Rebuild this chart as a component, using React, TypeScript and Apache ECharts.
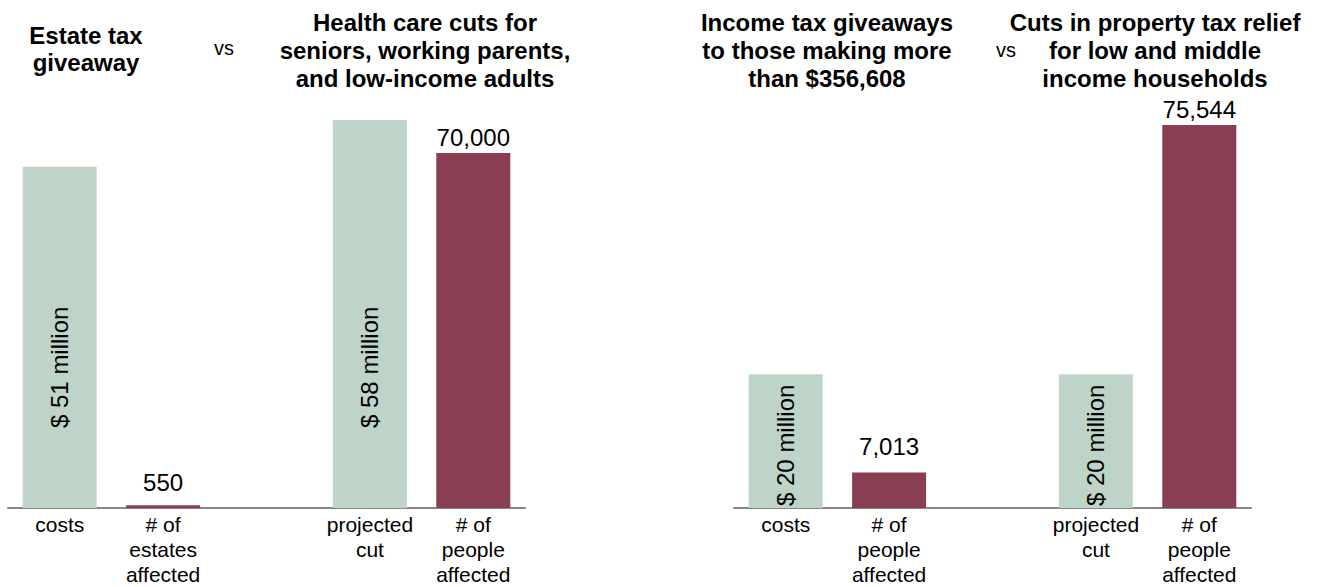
import React, { useEffect, useRef } from "react";
import * as echarts from "echarts";

// ---- data ----
const leftCategories = ["costs", "# of\nestates\naffected", "", "projected\ncut", "# of\npeople\naffected"];
const rightCategories = ["costs", "# of\npeople\naffected", "", "projected\ncut", "# of\npeople\naffected"];

// dollar amounts in millions (green bars), slots 0 and 3
const leftMillions = [51, 58];
const rightMillions = [20, 20];
// counts (red bars), slots 1 and 4
const leftCounts = [550, 70000];
const rightCounts = [7013, 75544];

const leftTitleA = "Estate tax\ngiveaway";
const leftTitleB = "Health care cuts for\nseniors, working parents,\nand low-income adults";
const rightTitleA = "Income tax giveaways\nto those making more\nthan $356,608";
const rightTitleB = "Cuts in property tax relief\nfor low and middle\nincome households";

// ---- styles ----
const GREEN = "#BED4C8";
const RED = "#8A3E51";
const FONT = "'Liberation Sans', Arial, Helvetica, sans-serif";
const leftInsideDist = [80, 80];
const rightInsideDist = [2, 2];
const leftTopDist = [11, 4];
const rightTopDist = [14, 3];

function buildGreen(vals: number[], dists: number[]) {
  const arr: any[] = ["-", "-", "-", "-", "-"];
  [0, 3].forEach((slot, i) => {
    arr[slot] = { value: vals[i], label: { distance: dists[i] } };
  });
  return arr;
}
function buildRed(vals: number[], dists: number[]) {
  const arr: any[] = ["-", "-", "-", "-", "-"];
  [1, 4].forEach((slot, i) => {
    arr[slot] = { value: vals[i], label: { distance: dists[i] } };
  });
  return arr;
}

export default function App() {
  const ref = useRef<HTMLDivElement>(null);
  useEffect(() => {
    if (!ref.current) return;
    const chart = echarts.init(ref.current, undefined, { renderer: "svg" });
    const xAxisBase = (gridIndex: number, data: string[]) => ({
      type: "category",
      gridIndex,
      data,
      axisTick: { show: false },
      axisLine: { lineStyle: { color: "#878787", width: 2 } },
      axisLabel: {
        interval: 0,
        fontSize: 21,
        lineHeight: 25,
        color: "#000",
        margin: 4,
        fontFamily: FONT,
      },
      splitLine: { show: false },
    });
    const yHidden = (gridIndex: number, max: number) => ({
      type: "value",
      gridIndex,
      min: 0,
      max,
      show: false,
      splitLine: { show: false },
    });
    const greenSeries = (idx: number, vals: number[], dists: number[]) => ({
      type: "bar",
      xAxisIndex: idx,
      yAxisIndex: idx * 2,
      barWidth: 74,
      barGap: "-100%",
      itemStyle: { color: GREEN },
      data: buildGreen(vals, dists),
      label: {
        show: true,
        position: "insideBottom",
        rotate: 90,
        align: "left",
        verticalAlign: "middle",
        fontSize: 24,
        color: "#000",
        fontFamily: FONT,
        formatter: (p: any) => `$ ${p.value} million`,
      },
    });
    const redSeries = (idx: number, vals: number[], dists: number[]) => ({
      type: "bar",
      xAxisIndex: idx,
      yAxisIndex: idx * 2 + 1,
      barWidth: 74,
      barGap: "-100%",
      itemStyle: { color: RED },
      data: buildRed(vals, dists),
      label: {
        show: true,
        position: "top",
        fontSize: 24,
        color: "#000",
        fontFamily: FONT,
        formatter: (p: any) => Number(p.value).toLocaleString("en-US"),
      },
    });
    const titleText = (x: number, y: number, text: string, bold = true, size = 24, lh = 28) => ({
      type: "text",
      x,
      y,
      style: {
        text,
        fill: "#000",
        font: `${bold ? "bold " : ""}${size}px ${FONT}`,
        textAlign: "center",
        textVerticalAlign: "middle",
        lineHeight: lh,
      },
    });
    chart.setOption({
      animation: false,
      textStyle: { fontFamily: FONT },
      grid: [
        { left: 8, width: 517, top: 110, bottom: 77 },
        { left: 734, width: 517, top: 110, bottom: 77 },
      ],
      xAxis: [xAxisBase(0, leftCategories), xAxisBase(1, rightCategories)],
      yAxis: [yHidden(0, 59.5), yHidden(0, 78500), yHidden(1, 59.5), yHidden(1, 78500)],
      series: [
        greenSeries(0, leftMillions, leftInsideDist),
        redSeries(0, leftCounts, leftTopDist),
        greenSeries(1, rightMillions, rightInsideDist),
        redSeries(1, rightCounts, rightTopDist),
      ],
      graphic: [
        titleText(86, 49, leftTitleA, true, 24, 27),
        titleText(224, 48, "vs", false, 20, 24),
        titleText(425, 50, leftTitleB),
        titleText(827, 50, rightTitleA),
        titleText(1006, 50, "vs", false, 20, 24),
        titleText(1155, 50, rightTitleB),
      ],
    });
    return () => chart.dispose();
  }, []);
  return (
    <div
      ref={ref}
      style={{ position: "fixed", left: 0, top: 0, width: 1319, height: 587, background: "#fff" }}
    />
  );
}
